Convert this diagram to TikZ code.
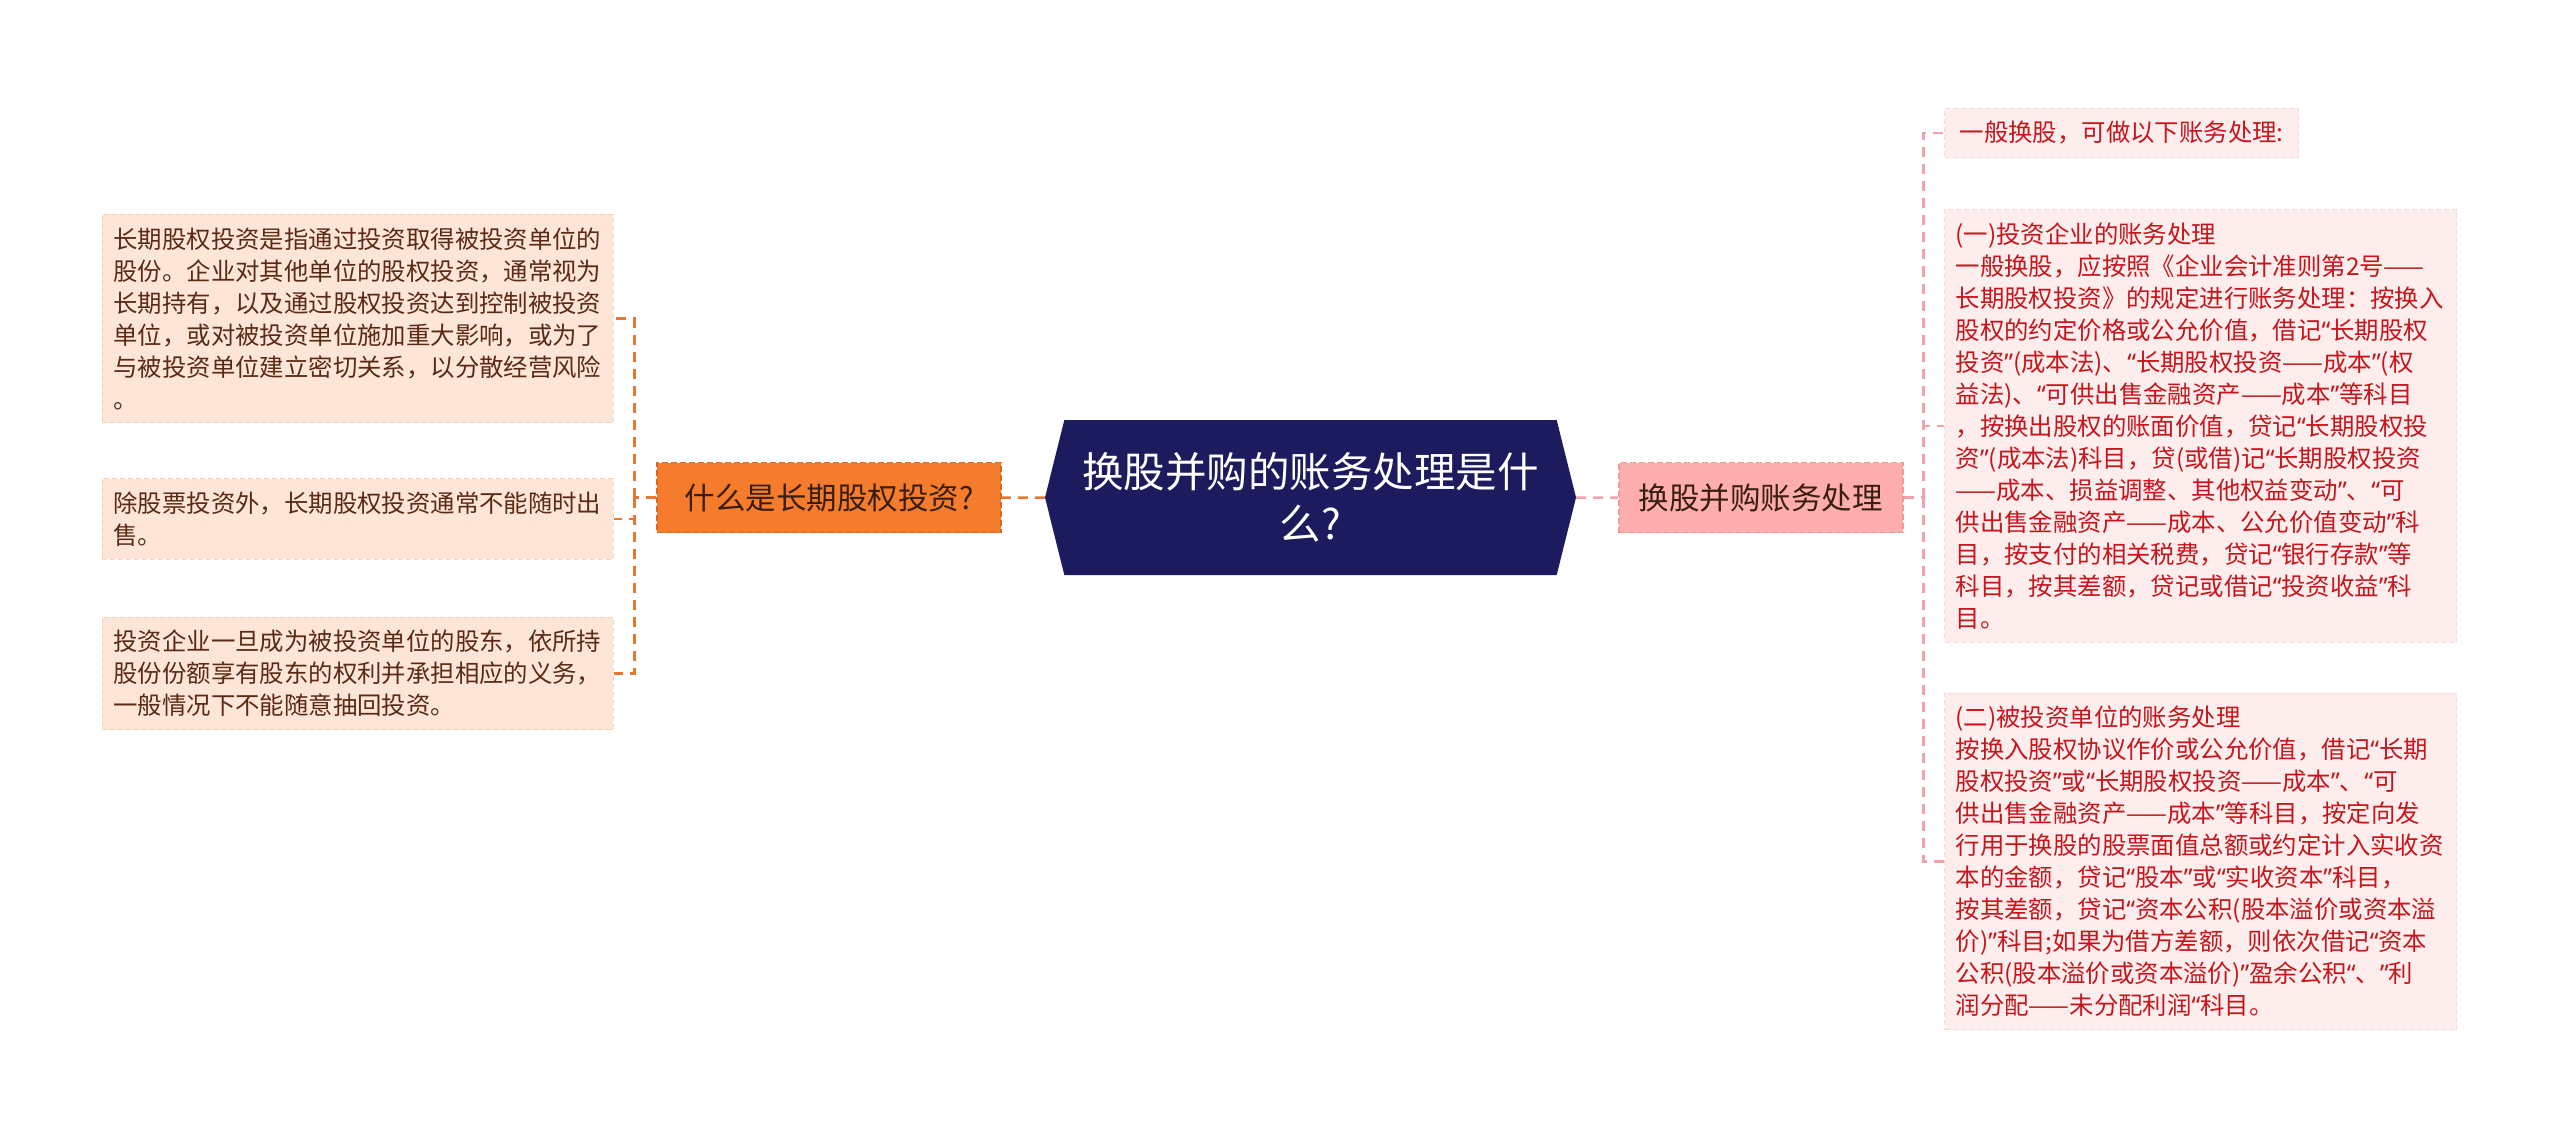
\documentclass[tikz,border=0pt]{standalone}
\usepackage{fontspec}
\setmainfont{Noto Sans CJK SC}
\newfontfamily\quoteFont{Noto Sans}
\usetikzlibrary{positioning,shapes.symbols}
\definecolor{rootColor}{HTML}{1C1B5E}
\definecolor{investColor}{HTML}{F47C2C}
\definecolor{investLine}{HTML}{E0661C}
\definecolor{mergeColor}{HTML}{FFAEAE}
\definecolor{mergeLine}{HTML}{F59898}
\definecolor{branchText}{HTML}{3A1E10}
\definecolor{leftLeafFill}{HTML}{FDE5D8}
\definecolor{leftLeafLine}{HTML}{F8D2BE}
\definecolor{leftLeafText}{HTML}{5A2A14}
\definecolor{rightLeafFill}{HTML}{FDEDED}
\definecolor{rightLeafLine}{HTML}{F8DADA}
\definecolor{rightLeafText}{HTML}{C4161C}
\definecolor{leftLinkColor}{HTML}{E8772F}
\definecolor{rightLinkColor}{HTML}{F0A4AA}
\newcommand{\rootFont}{\fontsize{41.5}{52}\selectfont}
\newcommand{\branchFont}{\fontsize{30.5}{36}\selectfont}
\newcommand{\leafFont}{\fontsize{24.4}{32}\selectfont}
\newcommand{\lqt}{{\quoteFont “}}
\newcommand{\rqt}{{\quoteFont ”}}
\tikzstyle{canvas} = [x=1pt, y=-1pt]
\tikzstyle{rootStyle} = [signal, signal to=west and east, signal pointer angle=152, fill=rootColor, text=white, minimum width=531pt, minimum height=155pt, inner sep=0pt, align=center, font=\rootFont]
\tikzstyle{branchStyle} = [line width=1.5pt, dash pattern=on 6pt off 3pt, minimum height=70pt, inner sep=0pt, text=branchText, font=\branchFont]
\tikzstyle{investStyle} = [branchStyle, fill=investColor, draw=investLine, minimum width=344pt]
\tikzstyle{mergeStyle} = [branchStyle, fill=mergeColor, draw=mergeLine, minimum width=284pt]
\tikzstyle{leafStyle} = [line width=1.2pt, dash pattern=on 5pt off 3pt, align=left, inner xsep=11pt, inner ysep=13pt, font=\leafFont]
\tikzstyle{leftLeafStyle} = [leafStyle, fill=leftLeafFill, draw=leftLeafLine, text=leftLeafText, text width=489pt, anchor=east]
\tikzstyle{rightLeafStyle} = [leafStyle, fill=rightLeafFill, draw=rightLeafLine, text=rightLeafText, text width=490pt, anchor=west]
\tikzstyle{rightHeadStyle} = [leafStyle, fill=rightLeafFill, draw=rightLeafLine, text=rightLeafText, inner xsep=15pt, anchor=west]
\tikzstyle{leftLinkStyle} = [draw=leftLinkColor, line width=2.5pt, dash pattern=on 10pt off 7pt]
\tikzstyle{rightLinkStyle} = [draw=rightLinkColor, line width=2.5pt, dash pattern=on 10pt off 7pt]
\newcommand{\leftLeaf}[3]{\node[leftLeafStyle] (#1) at (614,#2) {#3};}
\newcommand{\rightLeaf}[3]{\node[rightLeafStyle] (#1) at (1944,#2) {#3};}
\newcommand{\leftLink}[1]{\draw[leftLinkStyle] (leftFork) |- (#1);}
\newcommand{\rightLink}[1]{\draw[rightLinkStyle] (rightFork) |- (#1);}

\begin{document}
\begin{tikzpicture}[canvas]
\useasboundingbox (0,0) rectangle (2560,1134);
\node[rootStyle] (root) at (1310.5,497.5) {换股并购的账务处理是什\\么?};
\node[investStyle, left=43pt of root] (invest) {什么是长期股权投资?};
\node[mergeStyle, right=42pt of root] (merge) {换股并购账务处理};
\coordinate[left=22pt of invest] (leftFork);
\coordinate[right=20pt of merge] (rightFork);
\leftLeaf{defLeaf}{318.5}{长期股权投资是指通过投资取得被投资单位的\\股份。企业对其他单位的股权投资，通常视为\\长期持有，以及通过股权投资达到控制被投资\\单位，或对被投资单位施加重大影响，或为了\\与被投资单位建立密切关系，以分散经营风险\\。}
\leftLeaf{saleLeaf}{519}{除股票投资外，长期股权投资通常不能随时出\\售。}
\leftLeaf{holderLeaf}{673.5}{投资企业一旦成为被投资单位的股东，依所持\\股份份额享有股东的权利并承担相应的义务，\\一般情况下不能随意抽回投资。}
\node[rightHeadStyle] (headLeaf) at (1944,133) {一般换股，可做以下账务处理:};
\rightLeaf{investorLeaf}{426}{(一)投资企业的账务处理\\一般换股，应按照《企业会计准则第2号——\\长期股权投资》的规定进行账务处理：按换入\\股权的约定价格或公允价值，借记\lqt 长期股权\\投资\rqt(成本法)、\lqt 长期股权投资——成本\rqt(权\\益法)、\lqt 可供出售金融资产——成本\rqt 等科目\\，按换出股权的账面价值，贷记\lqt 长期股权投\\资\rqt(成本法)科目，贷(或借)记\lqt 长期股权投资\\——成本、损益调整、其他权益变动\rqt、\lqt 可\\供出售金融资产——成本、公允价值变动\rqt 科\\目，按支付的相关税费，贷记\lqt 银行存款\rqt 等\\科目，按其差额，贷记或借记\lqt 投资收益\rqt 科\\目。}
\rightLeaf{investeeLeaf}{861.5}{(二)被投资单位的账务处理\\按换入股权协议作价或公允价值，借记\lqt 长期\\股权投资\rqt 或\lqt 长期股权投资——成本\rqt、\lqt 可\\供出售金融资产——成本\rqt 等科目，按定向发\\行用于换股的股票面值总额或约定计入实收资\\本的金额，贷记\lqt 股本\rqt 或\lqt 实收资本\rqt 科目，\\按其差额，贷记\lqt 资本公积(股本溢价或资本溢\\价)\rqt 科目;如果为借方差额，则依次借记\lqt 资本\\公积(股本溢价或资本溢价)\rqt 盈余公积\lqt、\rqt 利\\润分配——未分配利润\lqt 科目。}
\draw[leftLinkStyle] (root) -- (invest);
\draw[leftLinkStyle] (invest) -- (leftFork);
\foreach \leaf in {defLeaf,saleLeaf,holderLeaf} {\leftLink{\leaf}}
\draw[rightLinkStyle] (root) -- (merge);
\draw[rightLinkStyle] (merge) -- (rightFork);
\foreach \leaf in {headLeaf,investorLeaf,investeeLeaf} {\rightLink{\leaf}}
\end{tikzpicture}
\end{document}
